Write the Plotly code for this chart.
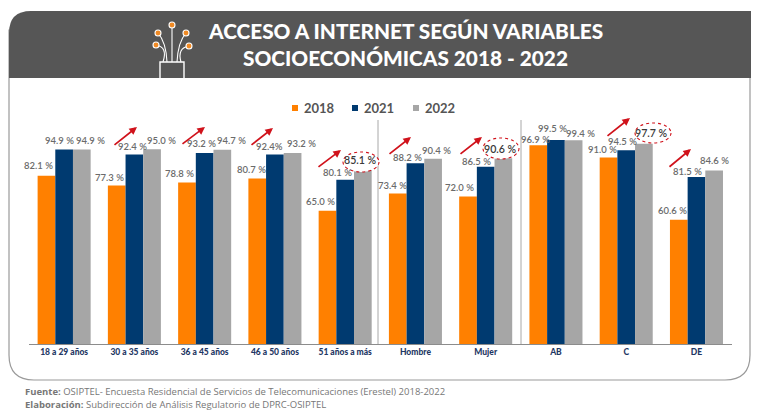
import plotly.graph_objects as go

W, H = 760, 415
categories = ["18 a 29 años", "30 a 35 años", "36 a 45 años", "46 a 50 años", "51 años a más",
              "Hombre", "Mujer", "AB", "C", "DE"]
years = ["2018", "2021", "2022"]
v2018 = [82.1, 77.3, 78.8, 80.7, 65.0, 73.4, 72.0, 96.9, 91.0, 60.6]
v2021 = [94.9, 92.4, 93.2, 92.4, 80.1, 88.2, 86.5, 99.5, 94.5, 81.5]
v2022 = [94.9, 95.0, 94.7, 93.2, 85.1, 90.4, 90.6, 99.4, 97.7, 84.6]
labels_2021 = ["94.9 %", "92.4 %", "93.2 %", "92.4%", "80.1 %", "88.2 %", "86.5 %", "99.5 %", "94.5 %", "81.5 %"]
colors = ["#FF8000", "#003A70", "#A6A6A6"]
title_lines = ["ACCESO A INTERNET SEGÚN VARIABLES", "SOCIOECONÓMICAS 2018 - 2022"]
source_lines = ["<b>Fuente:</b> OSIPTEL- Encuesta Residencial de Servicios de Telecomunicaciones (Erestel) 2018-2022",
                "<b>Elaboración:</b> Subdirección de Análisis Regulatorio de DPRC-OSIPTEL"]
highlight = {4, 6, 8}  # categories with the circled 2022 value

# label nudges (px): (dx, dy above the bar top) per category
off_2018 = [(-8, 10), (-7, 8.5), (-7, 8.5), (-6, 9.5), (-6.5, 9), (-5, 8.5), (-8, 8.5), (-3, 6), (-6.5, 7.5), (-6, 9)]
off_2021 = [(-5, 8.5), (-2, 8.5), (-3.5, 9), (-5, 8), (-8, 7), (-8, 6), (-8.8, 5), (-3, 12), (-4, 9), (-8.6, 5)]
off_2022 = [(9, 8.5), (9, 9), (9.5, 9), (8.5, 9), (-2, 9.5), (3, 8.5), (-2.5, 9), (7, 7), (8, 10.7), (0, 9.6)]

X0, X1, BASE, SCALE, YMAX = 29, 731.6, 344, 2.05, 110
px = lambda v: v / W
py = lambda v: 1 - v / H

fig = go.Figure()
for name, vals, col in zip(years, [v2018, v2021, v2022], colors):
    fig.add_bar(name=name, x=categories, y=vals, marker_color=col, marker_line_width=0, hoverinfo="skip")

ann = []
BW = 17.7
for s, (vals, offs) in enumerate(zip([v2018, v2021, v2022], [off_2018, off_2021, off_2022])):
    for i, (v, (dx, dy)) in enumerate(zip(vals, offs)):
        big = s == 2 and i in highlight
        txt = labels_2021[i] if s == 1 else f"{v:.1f} %"
        ann.append(dict(x=categories[i], y=v, xref="x", yref="y", text=txt, showarrow=False,
                        xshift=(s - 1) * BW + dx, yshift=dy, xanchor="center", yanchor="middle",
                        font=dict(family="Lato", size=10.6 if big else 9.5, color="#3a3a3a" if big else "#6b6b6b",
                                  weight=600)))

# trend arrows in pixels: tail x, tail y, head x, head y
arrow_groups = [(113, 146, 137, 127), (181, 145, 205, 127), (250, 146, 273, 128), (317, 168, 341, 150),
                (388, 155, 411, 137), (459, 155, 482, 137), (606, 137, 630, 118), (668, 168, 691, 149)]
for x0, y0, x1, y1 in arrow_groups:
    ann.append(dict(x=px(x1), y=py(y1), ax=x0 - x1, ay=y0 - y1, xref="paper", yref="paper", axref="pixel", ayref="pixel",
                    text="", showarrow=True, arrowhead=2, arrowsize=0.9, arrowwidth=1.7, arrowcolor="#D0121B"))

for i, line in enumerate(title_lines):
    ann.append(dict(x=px(405), y=py(31 + 26.5 * i), xref="paper", yref="paper", text=line, showarrow=False,
                    xanchor="center", yanchor="middle", font=dict(family="Lato", size=20.8, color="white", weight=900)))
for i, line in enumerate(source_lines):
    ann.append(dict(x=px(23), y=py(391 + 13.5 * i), xref="paper", yref="paper", xanchor="left", yanchor="middle",
                    text=line, showarrow=False, font=dict(family="Open Sans", size=9.5, color="#777777")))

shapes = []
# card outline and header
shapes.append(dict(type="path", xref="paper", yref="paper", layer="below",
                   path=f"M {px(9)} {py(30)} L {px(9)} {py(355)} Q {px(9)} {py(380)} {px(34)} {py(380)} L {px(725)} {py(380)} Q {px(750)} {py(380)} {px(750)} {py(355)} L {px(750)} {py(30)} Z",
                   fillcolor="white", line=dict(color="#9a9a9a", width=1.2)))
shapes.append(dict(type="path", xref="paper", yref="paper", layer="below",
                   path=f"M {px(9)} {py(78)} L {px(9)} {py(33)} Q {px(9)} {py(11)} {px(31)} {py(11)} L {px(751)} {py(11)} L {px(751)} {py(78)} Z",
                   fillcolor="#565656", line=dict(width=0)))

# group separators
for xs in (378, 521):
    shapes.append(dict(type="line", xref="paper", yref="paper", x0=px(xs), x1=px(xs), y0=py(120), y1=py(344),
                       line=dict(color="#a8a8a8", width=1), layer="below"))

# legend keys: square left edge, text left edge
for name, col, sq_x, tx_x in zip(years, colors, (292, 352, 413), (302, 362, 423)):
    shapes.append(dict(type="rect", xref="paper", yref="paper", x0=px(sq_x), x1=px(sq_x + 6), y0=py(105), y1=py(111),
                       fillcolor=col, line=dict(width=0)))
    ann.append(dict(x=px(tx_x), y=py(108), xref="paper", yref="paper", xanchor="left", yanchor="middle", text=f"<b>{name}</b>",
                    showarrow=False, font=dict(family="Lato", size=13, color="#555555")))

# highlight ellipses
for x0, y0, x1, y1 in [(343, 152, 379, 172), (483, 138, 519, 159), (635, 123, 671, 143)]:
    shapes.append(dict(type="circle", xref="paper", yref="paper", x0=px(x0), x1=px(x1), y0=py(y0), y1=py(y1),
                       fillcolor="white", line=dict(color="#D0121B", width=1.1, dash="dot")))

# icon: cable box, fibres, tips
shapes.append(dict(type="path", xref="paper", yref="paper",
                   path=f"M {px(160)} {py(78)} L {px(160)} {py(62)} L {px(184)} {py(62)} L {px(184)} {py(78)}",
                   line=dict(color="white", width=1.4)))
tips = [(172, 25), (158, 33), (186, 33), (156, 45), (189, 46)]
roots = [(172, 62), (167, 62), (177, 62), (163, 62), (181, 62)]
ctrls = [(172, 45), (166, 42), (178, 42), (168, 47), (177, 48)]
for (tx, ty), (rx, ry), (cx, cy) in zip(tips, roots, ctrls):
    shapes.append(dict(type="path", xref="paper", yref="paper",
                       path=f"M {px(rx)} {py(ry)} Q {px(cx)} {py(cy)} {px(tx)} {py(ty)}",
                       line=dict(color="white", width=1.1)))
for tx, ty in tips:
    shapes.append(dict(type="circle", xref="paper", yref="paper", x0=px(tx - 3), x1=px(tx + 3), y0=py(ty - 3), y1=py(ty + 3),
                       fillcolor="#F08A24", line=dict(color="white", width=1.1)))

fig.update_layout(
    width=W, height=H, margin=dict(l=0, r=0, t=0, b=0), paper_bgcolor="white", plot_bgcolor="rgba(0,0,0,0)",
    barmode="group", bargap=0.245, bargroupgap=0, showlegend=False,
    xaxis=dict(domain=[px(X0), px(X1)], range=[-0.5, 9.5], showline=True, linecolor="#8c8c8c", linewidth=1, ticks="", showgrid=False,
               tickfont=dict(family="Lato", size=8.5, color="#1F3864", weight=900), tickangle=0),
    yaxis=dict(domain=[py(BASE), py(BASE - SCALE * YMAX)], range=[0, YMAX], visible=False, showgrid=False),
    annotations=ann, shapes=shapes,
)
fig.write_html("out.html", config={"displayModeBar": False},
               post_script="document.body.style.margin='0';document.body.style.overflow='hidden';")
